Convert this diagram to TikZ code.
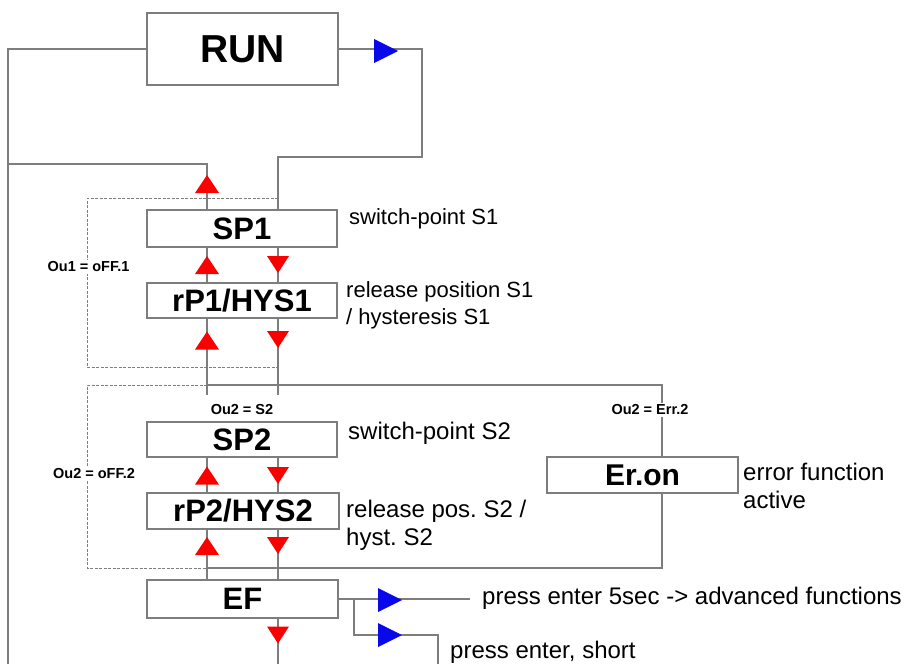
\documentclass[tikz,border=0pt]{standalone}
\usepackage{fontspec}
\setmainfont{Liberation Sans}
\frenchspacing
\definecolor{linegray}{RGB}{125,125,125}
\definecolor{trired}{RGB}{250,0,0}
\definecolor{triblue}{RGB}{8,8,235}
\tikzset{
  upred/.pic={\fill[trired] (-12,9) -- (12,9) -- (0,-9) -- cycle;},
  downred/.pic={\fill[trired] (-11,-8.5) -- (11,-8.5) -- (0,8.5) -- cycle;},
  rightblue/.pic={\fill[triblue] (-12,-12) -- (12,0) -- (-12,12) -- cycle;},
}
\begin{document}
\begin{tikzpicture}[x=1pt,y=-1pt,
  conn/.style={draw=linegray, line width=1.1pt},
  dashline/.style={draw=linegray, line width=1pt, dash pattern=on 3pt off 1.5pt},
  box/.style={draw=linegray, line width=1.1pt, fill=white, inner sep=0pt,
    font=\bfseries\fontsize{31}{31}\selectfont},
  desc/.style={anchor=west, inner sep=0pt, align=left,
    font=\fontsize{24}{28}\selectfont},
  descs/.style={anchor=west, inner sep=0pt, align=left,
    font=\fontsize{22}{27}\selectfont},
  small/.style={inner sep=2pt, fill=white, font=\bfseries\fontsize{14.5}{15}\selectfont},
]
\useasboundingbox (0,0) rectangle (904,664);

% boxes
\node[box, minimum width=191, minimum height=72, font=\bfseries\fontsize{39}{39}\selectfont] (run) at (242.5,49) {RUN};
\node[box, minimum width=190, minimum height=37] (sp1) at (242,228.5) {SP1};
\node[box, minimum width=190, minimum height=35] (rp1) at (242,300.5) {rP1/HYS1};
\node[box, minimum width=190, minimum height=35] (sp2) at (242,439.5) {SP2};
\node[box, minimum width=192, minimum height=36] (rp2) at (243,511) {rP2/HYS2};
\node[box, minimum width=191, minimum height=38] (ef) at (242.5,599) {EF};
\node[box, minimum width=191, minimum height=36, font=\bfseries\fontsize{30}{30}\selectfont] (eron) at (642.5,475) {Er.on};

% helper coordinates
\coordinate (cL) at (207,0);
\coordinate (cR) at (278,0);
\coordinate (lb) at (8,664);
\coordinate (j1) at (8,164);
\coordinate (rtop) at (422,157);
\coordinate (a1) at (207,395);
\coordinate (a2) at (278,395);
\coordinate (efdown) at (278,664);
\coordinate (eft) at (470,599);
\coordinate (efb) at (354,599);
\coordinate (efs) at (438,635);
\coordinate (efsb) at (438,664);
\coordinate (b2tl) at (207,385);
\coordinate (b2tr) at (662,385);
\coordinate (b2br) at (662,568);
\coordinate (b2bl) at (207,568);

% solid connectors
\draw[conn] (run.west) -| (lb);
\draw[conn] (j1) -| (sp1.north -| cL);
\draw[conn] (run.east) -| (rtop) -| (sp1.north -| cR);
\draw[conn] (sp1.south -| cL) -- (rp1.north -| cL);
\draw[conn] (sp1.south -| cR) -- (rp1.north -| cR);
\draw[conn] (rp1.south -| cL) -- (a1);
\draw[conn] (rp1.south -| cR) -- (a2);
\draw[conn] (sp2.south -| cL) -- (rp2.north -| cL);
\draw[conn] (sp2.south -| cR) -- (rp2.north -| cR);
\draw[conn] (rp2.south -| cL) -- (ef.north -| cL);
\draw[conn] (rp2.south -| cR) -- (ef.north -| cR);
\draw[conn] (ef.south -| cR) -- (efdown);
\draw[conn] (ef.east) -- (eft);
\draw[conn] (efb) |- (efs) -- (efsb);
\draw[conn] (b2tl) -- (b2tr) -- (eron.north -| b2tr);
\draw[conn] (eron.south -| b2tr) -- (b2br) -- (b2bl);

% dashed groups
\draw[dashline] (278,198) -- (87,198) -- (87,367) -- (278,367);
\draw[dashline] (b2tl) -- (87,385) -- (87,568) -- (b2bl);

% triangles
\pic at (207,184) {upred};
\pic at (207,265) {upred};
\pic at (278,264.5) {downred};
\pic at (207,340.5) {upred};
\pic at (278,339.5) {downred};
\pic at (207,475.5) {upred};
\pic at (278,475.5) {downred};
\pic at (207,546) {upred};
\pic at (278,545.5) {downred};
\pic at (278,635) {downred};
\pic at (386,51) {rightblue};
\pic at (390,600) {rightblue};
\pic at (390,635) {rightblue};

% small labels
\node[small] (l1) at (88.5,267) {Ou1 = oFF.1};
\node[small] (l2) at (94,473) {Ou2 = oFF.2};
\node[small] (l3) at (242,410) {Ou2 = S2};
\node[small] (l4) at (650,410) {Ou2 = Err.2};

% descriptions
\node[descs] (d1) at (349,219) {switch-point S1};
\node[descs] (d2) at (346,305) {release position S1\\/ hysteresis S1};
\node[desc] (d3) at (348,433) {switch-point S2};
\node[desc] (d4) at (346,525) {release pos. S2 /\\hyst. S2};
\node[desc] (d5) at (743,486) {error function\\active};
\node[desc] (d6) at (482,598) {press enter 5sec -> advanced functions};
\node[desc] (d7) at (450,652) {press enter, short};
\end{tikzpicture}
\end{document}
